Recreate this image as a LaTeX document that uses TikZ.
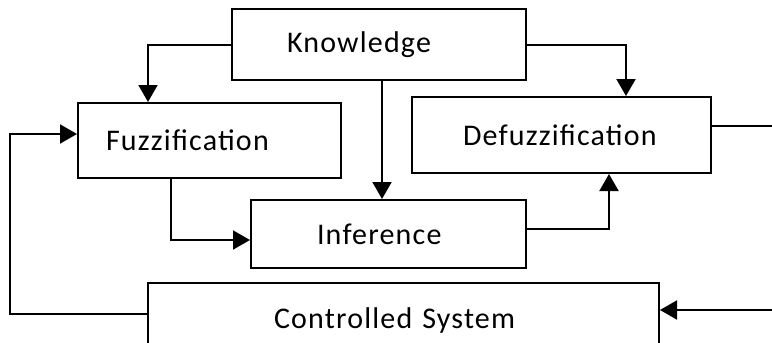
\documentclass[tikz,border=0pt]{standalone}
\usepackage{fontspec}
\setmainfont{Carlito}[LetterSpace=4]
\usetikzlibrary{arrows.meta}
\begin{document}
\begin{tikzpicture}[x=0.5pt,y=-0.5pt,
  box/.style={draw=black, line width=1pt, inner xsep=0pt, inner ysep=0pt, align=left, font=\fontsize{15pt}{18pt}\selectfont},
  arr/.style={line width=1pt, -{Triangle[width=9.5pt,length=8.5pt]}},
  wire/.style={line width=1pt}]
\useasboundingbox (0,0) rectangle (772,343);
\clip (0,0) rectangle (772,343);
\node[box, text width=147pt, minimum height=35.5pt] (k) at (379,44.5) {\hspace*{27.5pt}Knowledge};
\node[box, text width=131.5pt, minimum height=37.5pt] (f) at (209.5,140.5) {\hspace*{14pt}Fuzzification};
\node[box, text width=149.5pt, minimum height=38pt] (d) at (561.5,135) {\hspace*{25.5pt}Defuzzification};
\node[box, text width=137.5pt, minimum height=34pt] (i) at (388.5,234) {\hspace*{33pt}Inference};
\node[box, text width=255.5pt, minimum height=37pt] (c) at (403.5,320) {\hspace*{63pt}Controlled System};
\coordinate (out) at (772,126);
\coordinate (in) at (772,310);
\draw[arr] (k.west) -| ([xshift=35.5pt]f.north west);
\draw[arr] (k.east) -| ([xshift=107.5pt]d.north west);
\draw[arr] ([xshift=1.5pt]k.south) -- ([xshift=1.5pt]k.south |- i.north);
\draw[arr] ([xshift=-19.25pt]f.south) |- ([yshift=-3pt]i.west);
\draw[arr] ([yshift=2.5pt]i.east) -| ([xshift=23.75pt]d.south);
\draw[wire] ([yshift=4.5pt]d.east) -- (out);
\draw[arr] (in) -- ([yshift=5pt]c.east);
\draw[arr] ([yshift=3pt]c.west) -- ++(-68.5pt,0) |- ([yshift=3.25pt]f.west);
\end{tikzpicture}
\end{document}
